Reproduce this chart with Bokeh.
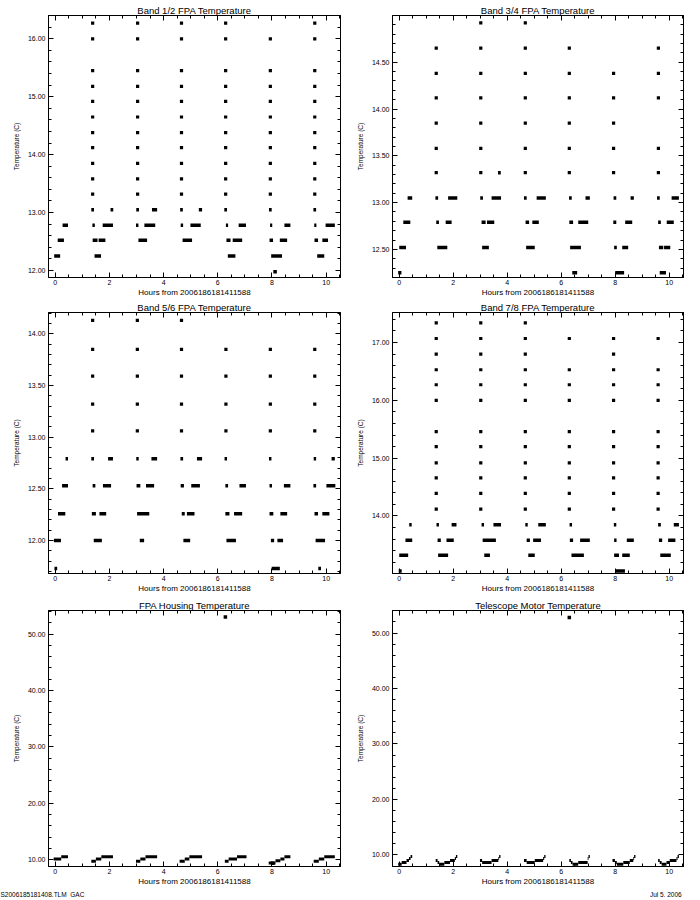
from bokeh.plotting import figure
from bokeh.models import (Range1d, LinearAxis, SingleIntervalTicker,
                          PrintfTickFormatter, ColumnDataSource, Title)
from bokeh.layouts import column, row
from bokeh.embed import file_html
from bokeh.resources import INLINE

FONT = "Liberation Sans"
X_RANGE = (-0.25, 10.53)
X_LABEL = "Hours from 2006186181411588"
Y_LABEL = "Temperature (C)"
FOOTER_FILE = "S2006185181408.TLM_GAC"
FOOTER_DATE = "Jul  5, 2006"

TITLES = ["Band 1/2 FPA Temperature", "Band 3/4 FPA Temperature",
          "Band 5/6 FPA Temperature", "Band 7/8 FPA Temperature",
          "FPA Housing Temperature", "Telescope Motor Temperature"]

# ---------------- Band 1/2 ----------------
B12_YRANGE = (11.879, 16.402)
B12_SPIKE_X = [1.38, 3.04, 4.66, 6.29, 7.94, 9.58]
B12_SPIKE_LEVELS = [
    [13.32, 13.58, 13.85, 14.12, 14.38, 14.65, 14.92, 15.18, 15.45, 16.00, 16.27],
    [13.32, 13.58, 13.85, 14.12, 14.38, 14.65, 14.92, 15.18, 15.45, 16.00, 16.27],
    [13.32, 13.58, 13.85, 14.12, 14.38, 14.65, 14.92, 15.18, 15.45, 16.00, 16.27],
    [13.32, 13.58, 13.85, 14.12, 14.38, 14.65, 14.92, 15.18, 15.45, 16.00, 16.27],
    [13.32, 13.58, 13.85, 14.12, 14.38, 14.65, 14.92, 15.18, 15.45, 16.00],
    [13.32, 13.58, 13.85, 14.12, 14.38, 14.65, 14.92, 15.18, 15.45, 16.00, 16.27],
]
B12_RUN_LEVELS = [13.05, 12.78, 12.52, 12.25, 11.98]
B12_RUN_SPANS = [
    [(1.33, 1.43), (2.04, 2.14), (2.99, 3.09), (3.57, 3.76), (4.61, 4.71),
     (5.30, 5.42), (6.24, 6.34), (7.89, 7.99), (9.53, 9.63)],
    [(0.27, 0.47), (1.37, 1.46), (1.75, 2.13), (2.98, 3.07), (3.29, 3.69),
     (4.63, 4.72), (4.99, 5.37), (6.30, 6.38), (6.77, 7.04), (7.93, 8.01),
     (8.46, 8.68), (9.56, 9.64), (9.98, 10.32)],
    [(0.09, 0.32), (1.38, 1.56), (1.60, 1.85), (3.07, 3.39), (4.70, 5.05),
     (6.32, 6.47), (6.55, 6.90), (7.91, 8.04), (8.29, 8.56), (9.57, 9.70),
     (9.86, 10.07)],
    [(-0.04, 0.18), (1.45, 1.69), (6.37, 6.65), (7.97, 8.37), (9.67, 9.93)],
    [(8.05, 8.18)],
]

# ---------------- Band 3/4 ----------------
B34_YRANGE = (12.200, 14.999)
B34_SPIKE_X = [1.37, 3.02, 4.67, 6.30, 7.94, 9.60]
B34_SPIKE_LEVELS = [
    [13.32, 13.58, 13.85, 14.12, 14.38, 14.65],
    [13.32, 13.58, 13.85, 14.12, 14.38, 14.65, 14.92],
    [13.32, 13.58, 13.85, 14.12, 14.38, 14.65, 14.92],
    [13.32, 13.58, 13.85, 14.12, 14.38, 14.65],
    [13.32, 13.58, 13.85, 14.12, 14.38],
    [13.32, 13.58, 14.12, 14.38, 14.65],
]
B34_RUN_LEVELS = [13.32, 13.05, 12.79, 12.52, 12.25]
B34_RUN_SPANS = [
    [(3.66, 3.76)],
    [(0.31, 0.48), (1.34, 1.44), (1.81, 2.15), (3.00, 3.10), (3.42, 3.77),
     (4.62, 4.72), (5.09, 5.43), (6.29, 6.39), (6.90, 7.06), (7.94, 8.04),
     (8.57, 8.69), (9.55, 9.65), (10.09, 10.36)],
    [(0.15, 0.41), (1.37, 1.47), (1.72, 1.94), (3.05, 3.20), (3.25, 3.52),
     (4.68, 4.81), (4.93, 5.17), (6.30, 6.44), (6.63, 7.00), (7.93, 8.04),
     (8.37, 8.63), (9.59, 9.69), (9.91, 10.17)],
    [(0.00, 0.25), (1.41, 1.78), (3.07, 3.32), (4.70, 5.02), (6.33, 6.73),
     (7.96, 8.06), (8.26, 8.48), (9.62, 9.78), (9.81, 10.04)],
    [(-0.04, 0.08), (6.41, 6.59), (8.00, 8.33), (9.65, 9.88)],
]

# ---------------- Band 5/6 ----------------
B56_YRANGE = (11.681, 14.206)
B56_SPIKE_X = [1.38, 3.03, 4.66, 6.30, 7.94, 9.58]
B56_SPIKE_LEVELS = [
    [13.06, 13.32, 13.59, 13.85, 14.13],
    [13.06, 13.32, 13.59, 13.85, 14.13],
    [13.06, 13.32, 13.59, 13.85, 14.13],
    [13.06, 13.32, 13.59, 13.85],
    [13.06, 13.32, 13.59, 13.85],
    [13.06, 13.32, 13.59, 13.85],
]
B56_RUN_LEVELS = [12.79, 12.53, 12.26, 12.00, 11.73]
B56_RUN_SPANS = [
    [(0.38, 0.47), (1.33, 1.43), (1.95, 2.13), (2.99, 3.08), (3.55, 3.76),
     (4.62, 4.72), (5.23, 5.42), (6.25, 6.34), (7.89, 7.98), (9.54, 9.63),
     (10.20, 10.32)],
    [(0.25, 0.47), (1.38, 1.48), (1.76, 2.06), (3.00, 3.14), (3.35, 3.65),
     (4.63, 4.75), (5.02, 5.34), (6.28, 6.38), (6.80, 7.04), (7.91, 8.00),
     (8.44, 8.68), (9.53, 9.63), (10.01, 10.34)],
    [(0.10, 0.37), (1.35, 1.50), (1.63, 1.88), (3.02, 3.47), (4.67, 4.78),
     (4.86, 5.14), (6.28, 6.43), (6.60, 6.90), (7.91, 8.05), (8.31, 8.56),
     (9.57, 9.70), (9.86, 10.12)],
    [(-0.05, 0.21), (1.42, 1.72), (3.12, 3.28), (4.73, 4.98), (6.32, 6.67),
     (7.96, 8.08), (8.20, 8.41), (9.61, 9.96)],
    [(-0.03, 0.07), (7.99, 8.29), (9.71, 9.81)],
]

# ---------------- Band 7/8 ----------------
B78_YRANGE = (13.005, 17.52)
B78_SPIKE_X = [1.37, 3.02, 4.67, 6.30, 7.94, 9.59]
B78_SPIKE_LEVELS = [
    [14.12, 14.39, 14.66, 14.92, 15.20, 15.46, 16.00, 16.27, 16.53, 16.80, 17.07, 17.34],
    [14.12, 14.39, 14.66, 14.92, 15.20, 15.46, 16.00, 16.27, 16.53, 16.80, 17.07, 17.34],
    [14.12, 14.39, 14.66, 14.92, 15.20, 15.46, 16.00, 16.27, 16.53, 16.80, 17.07, 17.34],
    [14.12, 14.39, 14.66, 14.92, 15.20, 15.46, 16.00, 16.27, 16.53, 17.07],
    [14.12, 14.39, 14.66, 14.92, 15.20, 15.46, 16.00, 16.27, 16.53, 16.80, 17.07],
    [14.12, 14.39, 14.66, 14.92, 15.20, 15.46, 16.00, 16.27, 16.53, 17.07],
]
B78_RUN_LEVELS = [13.85, 13.58, 13.32, 13.05]
B78_RUN_SPANS = [
    [(0.37, 0.46), (1.38, 1.47), (1.94, 2.12), (3.05, 3.14), (3.49, 3.77),
     (4.67, 4.76), (5.15, 5.43), (6.31, 6.40), (7.95, 8.04), (9.59, 9.69),
     (10.17, 10.36)],
    [(0.23, 0.48), (1.42, 1.54), (1.75, 2.02), (3.09, 3.58), (4.72, 4.84),
     (4.96, 5.25), (6.32, 6.44), (6.70, 7.06), (7.96, 8.05), (8.43, 8.69),
     (9.62, 9.74), (9.96, 10.23)],
    [(0.00, 0.33), (1.44, 1.81), (3.15, 3.36), (4.78, 5.02), (6.38, 6.84),
     (7.96, 8.14), (8.26, 8.54), (9.67, 10.06)],
    [(-0.02, 0.09), (8.02, 8.36)],
]

# ---------------- FPA Housing ----------------
HSG_YRANGE = (8.77, 54.17)
HSG_POINT_X = [6.28, 8.03]
HSG_POINT_Y = [53.0, 9.35]
HSG_RUN_LEVELS = [9.4, 9.7, 9.8, 10.1, 10.5]
HSG_RUN_SPANS = [
    [(7.88, 8.13)],
    [(1.33, 1.50), (2.98, 3.14), (4.59, 4.78), (6.26, 6.40), (9.54, 9.73)],
    [(8.13, 8.31)],
    [(-0.06, 0.22), (1.50, 1.70), (3.14, 3.33), (4.78, 4.95), (6.40, 6.71),
     (8.31, 8.46), (9.73, 9.93)],
    [(0.22, 0.47), (1.70, 2.13), (3.33, 3.76), (4.95, 5.42), (6.71, 7.06),
     (8.46, 8.68), (9.93, 10.32)],
]

# ---------------- Telescope Motor ----------------
MOT_YRANGE = (7.91, 54.06)
MOT_POINT_X = [6.30]
MOT_POINT_Y = [52.8]
MOT_RUN_LEVELS = [8.3, 8.65, 9.0, 9.35, 9.7]
MOT_RUN_SPANS = [
    [(-0.04, 0.09), (1.48, 1.67), (6.42, 6.63), (8.06, 8.30), (9.72, 9.90)],
    [(0.09, 0.27), (1.42, 1.48), (1.67, 1.88), (3.07, 3.42), (4.72, 5.02),
     (6.36, 6.42), (6.63, 6.98), (7.99, 8.06), (8.30, 8.54), (9.65, 9.72),
     (9.90, 10.02)],
    [(0.27, 0.36), (1.35, 1.42), (1.88, 2.06), (2.99, 3.07), (3.42, 3.67),
     (4.62, 4.72), (5.02, 5.33), (6.30, 6.36), (7.90, 7.99), (8.54, 8.67),
     (9.59, 9.65), (10.02, 10.27)],
    [(0.36, 0.42), (2.06, 2.10), (3.67, 3.70), (5.33, 5.37), (6.98, 7.01),
     (8.67, 8.70), (10.27, 10.31)],
    [(0.42, 0.48), (2.10, 2.15), (3.70, 3.75), (5.37, 5.42), (7.01, 7.06),
     (8.70, 8.75), (10.31, 10.36)],
]


def spikes_to_xy(xs, levels):
    px, py = [], []
    for x, lv in zip(xs, levels):
        for y in lv:
            px.append(x)
            py.append(y)
    return px, py


def runs_source(levels, spans):
    x0, x1, y = [], [], []
    for lv, sp in zip(levels, spans):
        for a, b in sp:
            x0.append(a)
            x1.append(b)
            y.append(lv)
    return ColumnDataSource(dict(x0=x0, x1=x1, y=y))


def style_axis(ax, show_labels):
    ax.axis_line_color = "black"
    ax.major_tick_line_color = "black"
    ax.minor_tick_line_color = "black"
    ax.major_tick_in = 5
    ax.major_tick_out = 0
    ax.minor_tick_in = 3
    ax.minor_tick_out = 0
    if show_labels:
        ax.major_label_text_font = FONT
        ax.major_label_text_font_size = "7px"
        ax.major_label_text_color = "black"
        ax.axis_label_text_font = FONT
        ax.axis_label_text_font_style = "normal"
        ax.axis_label_text_color = "black"
    else:
        ax.major_label_text_font_size = "0px"
        ax.major_label_text_color = None
        ax.major_label_standoff = 0
        ax.axis_label = None


def style_title(t, size):
    t.text_font = FONT
    t.text_font_size = size
    t.text_font_style = "normal"
    t.text_color = "black"
    try:
        t.standoff = 0
    except Exception:
        pass


def make_panel(title, yr, y_interval, frame_w, frame_h, b_right, b_top,
               b_bottom, pts, runs, pt_size, run_width):
    p = figure(frame_width=frame_w, frame_height=frame_h,
               x_range=Range1d(*X_RANGE), y_range=Range1d(*yr),
               output_backend="svg", toolbar_location=None,
               min_border_left=48, min_border_right=b_right,
               min_border_top=b_top, min_border_bottom=b_bottom,
               title=title)
    p.grid.visible = False
    p.outline_line_color = "black"
    p.background_fill_color = "white"
    p.border_fill_color = "white"

    p.title.align = "center"
    p.title.offset = 0
    style_title(p.title, "9.5px")

    xt = SingleIntervalTicker(interval=2, num_minor_ticks=4)
    yt = SingleIntervalTicker(interval=y_interval, num_minor_ticks=5)
    p.xaxis.ticker = xt
    p.yaxis.ticker = yt
    p.yaxis.formatter = PrintfTickFormatter(format="%.2f")
    p.xaxis.axis_label = X_LABEL
    p.yaxis.axis_label = Y_LABEL
    for ax in p.xaxis:
        style_axis(ax, True)
        ax.major_label_standoff = 2
        ax.axis_label_standoff = 0
        ax.axis_label_text_font_size = "8px"
    for ax in p.yaxis:
        style_axis(ax, True)
        ax.major_label_standoff = 3
        ax.axis_label_standoff = 5
        ax.axis_label_text_font_size = "6.5px"

    top = LinearAxis(ticker=xt)
    right = LinearAxis(ticker=yt)
    style_axis(top, False)
    style_axis(right, False)
    p.add_layout(top, "above")
    p.add_layout(right, "right")

    src = runs_source(*runs)
    p.segment(x0="x0", y0="y", x1="x1", y1="y", source=src,
              line_width=run_width, line_color="black", line_cap="butt")
    if pts[0]:
        p.scatter(pts[0], pts[1], marker="square", size=pt_size,
                  fill_color="black", line_color=None)
    return p


LEFT = dict(frame_w=292, b_right=4)
RIGHT = dict(frame_w=291, b_right=1)
ROW1 = dict(frame_h=262, b_top=15, b_bottom=22)
ROW2 = dict(frame_h=261, b_top=12, b_bottom=24)
ROW3 = dict(frame_h=256, b_top=13, b_bottom=27)

p1 = make_panel(TITLES[0], B12_YRANGE, 1,
                pts=spikes_to_xy(B12_SPIKE_X, B12_SPIKE_LEVELS),
                runs=(B12_RUN_LEVELS, B12_RUN_SPANS), pt_size=3.2,
                run_width=3.5, **LEFT, **ROW1)
p2 = make_panel(TITLES[1], B34_YRANGE, 0.5,
                pts=spikes_to_xy(B34_SPIKE_X, B34_SPIKE_LEVELS),
                runs=(B34_RUN_LEVELS, B34_RUN_SPANS), pt_size=3.2,
                run_width=3.5, **RIGHT, **ROW1)
p3 = make_panel(TITLES[2], B56_YRANGE, 0.5,
                pts=spikes_to_xy(B56_SPIKE_X, B56_SPIKE_LEVELS),
                runs=(B56_RUN_LEVELS, B56_RUN_SPANS), pt_size=3.2,
                run_width=3.5, **LEFT, **ROW2)
p4 = make_panel(TITLES[3], B78_YRANGE, 1,
                pts=spikes_to_xy(B78_SPIKE_X, B78_SPIKE_LEVELS),
                runs=(B78_RUN_LEVELS, B78_RUN_SPANS), pt_size=3.2,
                run_width=3.5, **RIGHT, **ROW2)
p5 = make_panel(TITLES[4], HSG_YRANGE, 10,
                pts=(HSG_POINT_X, HSG_POINT_Y),
                runs=(HSG_RUN_LEVELS, HSG_RUN_SPANS), pt_size=3.5,
                run_width=3, **LEFT, **ROW3)
p6 = make_panel(TITLES[5], MOT_YRANGE, 10,
                pts=(MOT_POINT_X, MOT_POINT_Y),
                runs=(MOT_RUN_LEVELS, MOT_RUN_SPANS), pt_size=3.5,
                run_width=3, **RIGHT, **ROW3)

# footer lines under the bottom panels
foot_l = Title(text=FOOTER_FILE, align="left", offset=-48)
style_title(foot_l, "6.5px")
p5.add_layout(foot_l, "below")
foot_r = Title(text=FOOTER_DATE, align="right", offset=0)
style_title(foot_r, "6.5px")
p6.add_layout(foot_r, "below")

layout = column(row(p1, p2), row(p3, p4), row(p5, p6))

open("out.html", "w").write(file_html(layout, INLINE))
